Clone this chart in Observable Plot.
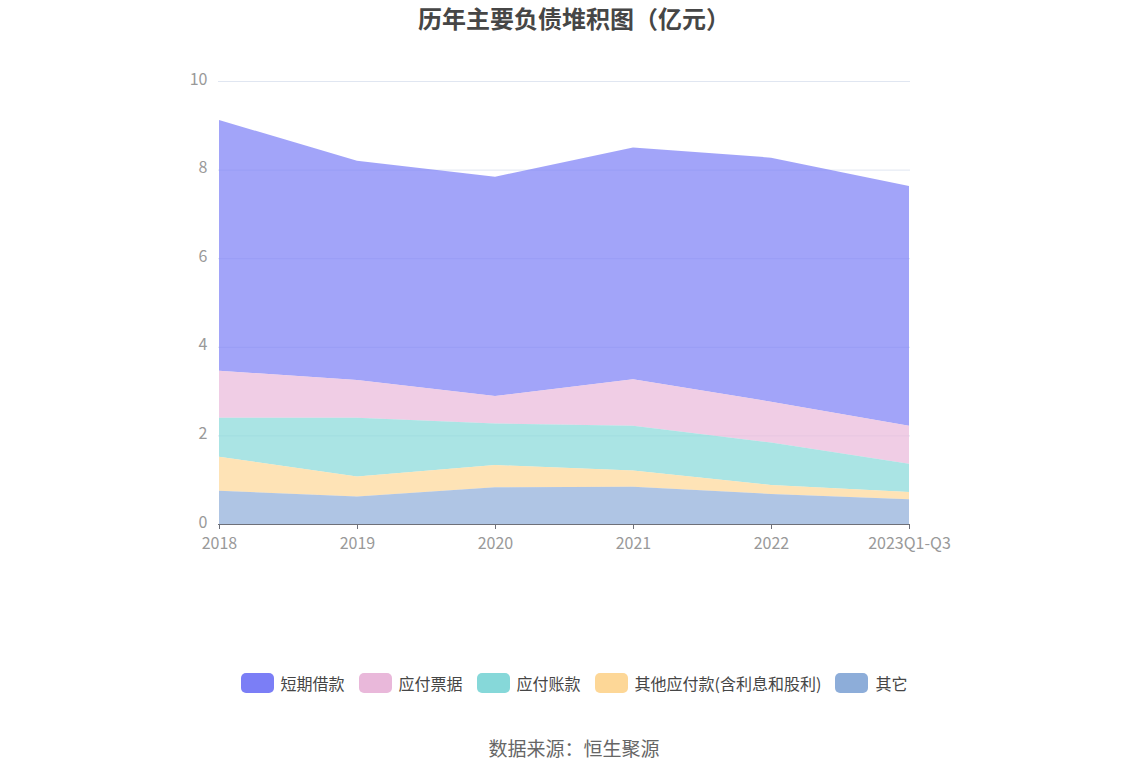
<!DOCTYPE html>
<html>
<head>
<meta charset="utf-8">
<script src="https://cdn.jsdelivr.net/npm/d3@7"></script>
<script src="https://cdn.jsdelivr.net/npm/@observablehq/plot@0.6"></script>
<style>
  html, body { margin: 0; padding: 0; background: #fff; }
  body { width: 1148px; height: 776px; font-family: "Noto Sans CJK SC", "Noto Sans", sans-serif; position: relative; overflow: hidden; }
  #title { position: absolute; top: 0px; left: 0; width: 1148px; text-align: center; font-size: 24px; font-weight: bold; color: #464646; }
  #chart { position: absolute; top: 40px; left: 0; }
  #legend { position: absolute; top: 671px; left: 0; width: 1148px; display: flex; justify-content: center; gap: 14px; font-size: 16px; color: #464646; }
  .item { display: flex; align-items: center; gap: 7px; }
  .sw { width: 33px; height: 20px; border-radius: 5px; display: inline-block; }
  #caption { position: absolute; top: 734px; left: 0; width: 1148px; text-align: center; font-size: 19px; color: #666; }
</style>
</head>
<body>
<div id="title">历年主要负债堆积图（亿元）</div>
<div id="chart"></div>
<div id="legend"></div>
<div id="caption">数据来源：恒生聚源</div>
<script>
const years = ["2018", "2019", "2020", "2021", "2022", "2023Q1-Q3"];
const seriesNames = ["短期借款", "应付票据", "应付账款", "其他应付款(含利息和股利)", "其它"];
const colors = ["#7b7ef6", "#e9b8da", "#86d8d9", "#fdd797", "#8dadd9"];
const shortLoans = [5.66, 4.95, 4.95, 5.23, 5.51, 5.41];
const notesPayable = [1.06, 0.85, 0.62, 1.05, 0.92, 0.86];
const accountsPayable = [0.88, 1.33, 0.94, 1.01, 0.96, 0.64];
const otherPayables = [0.77, 0.45, 0.50, 0.37, 0.20, 0.16];
const others = [0.75, 0.62, 0.83, 0.84, 0.68, 0.56];
const yTicks = [0, 2, 4, 6, 8, 10];

const valuesBySeries = [shortLoans, notesPayable, accountsPayable, otherPayables, others];
const data = [];
seriesNames.forEach((s, i) => {
  years.forEach((y, j) => data.push({year: y, series: s, value: valuesBySeries[i][j]}));
});
const stackOrder = seriesNames.slice().reverse();

const chart = Plot.plot({
  width: 1148,
  height: 530,
  marginTop: 41,
  marginLeft: 218,
  marginRight: 238,
  marginBottom: 46,
  style: {fontFamily: "'Noto Sans CJK SC', 'Noto Sans', sans-serif", fontSize: "16px", color: "#999"},
  x: {type: "point", domain: years, padding: 0, label: null},
  y: {domain: [0, 10], label: null},
  color: {domain: seriesNames, range: colors},
  marks: [
    Plot.gridY(yTicks, {stroke: "#e0e6f1", strokeOpacity: 1}),
    Plot.areaY(data, {x: "year", y: "value", fill: "series", fillOpacity: 0.7, order: stackOrder}),
    Plot.axisY(yTicks, {tickSize: 0, tickPadding: 11, fill: "#999", fontSize: 16, dy: -2}),
    Plot.ruleY([0], {stroke: "#6e7079"}),
    Plot.axisX(years, {tickSize: 5, stroke: "#6e7079", tickPadding: 8, fill: "#999", fontSize: 16})
  ]
});
document.getElementById("chart").appendChild(chart);

const legend = document.getElementById("legend");
seriesNames.forEach((s, i) => {
  const it = document.createElement("div");
  it.className = "item";
  const sw = document.createElement("span");
  sw.className = "sw";
  sw.style.background = colors[i];
  const t = document.createElement("span");
  t.textContent = s;
  it.appendChild(sw); it.appendChild(t);
  legend.appendChild(it);
});
</script>
</body>
</html>
